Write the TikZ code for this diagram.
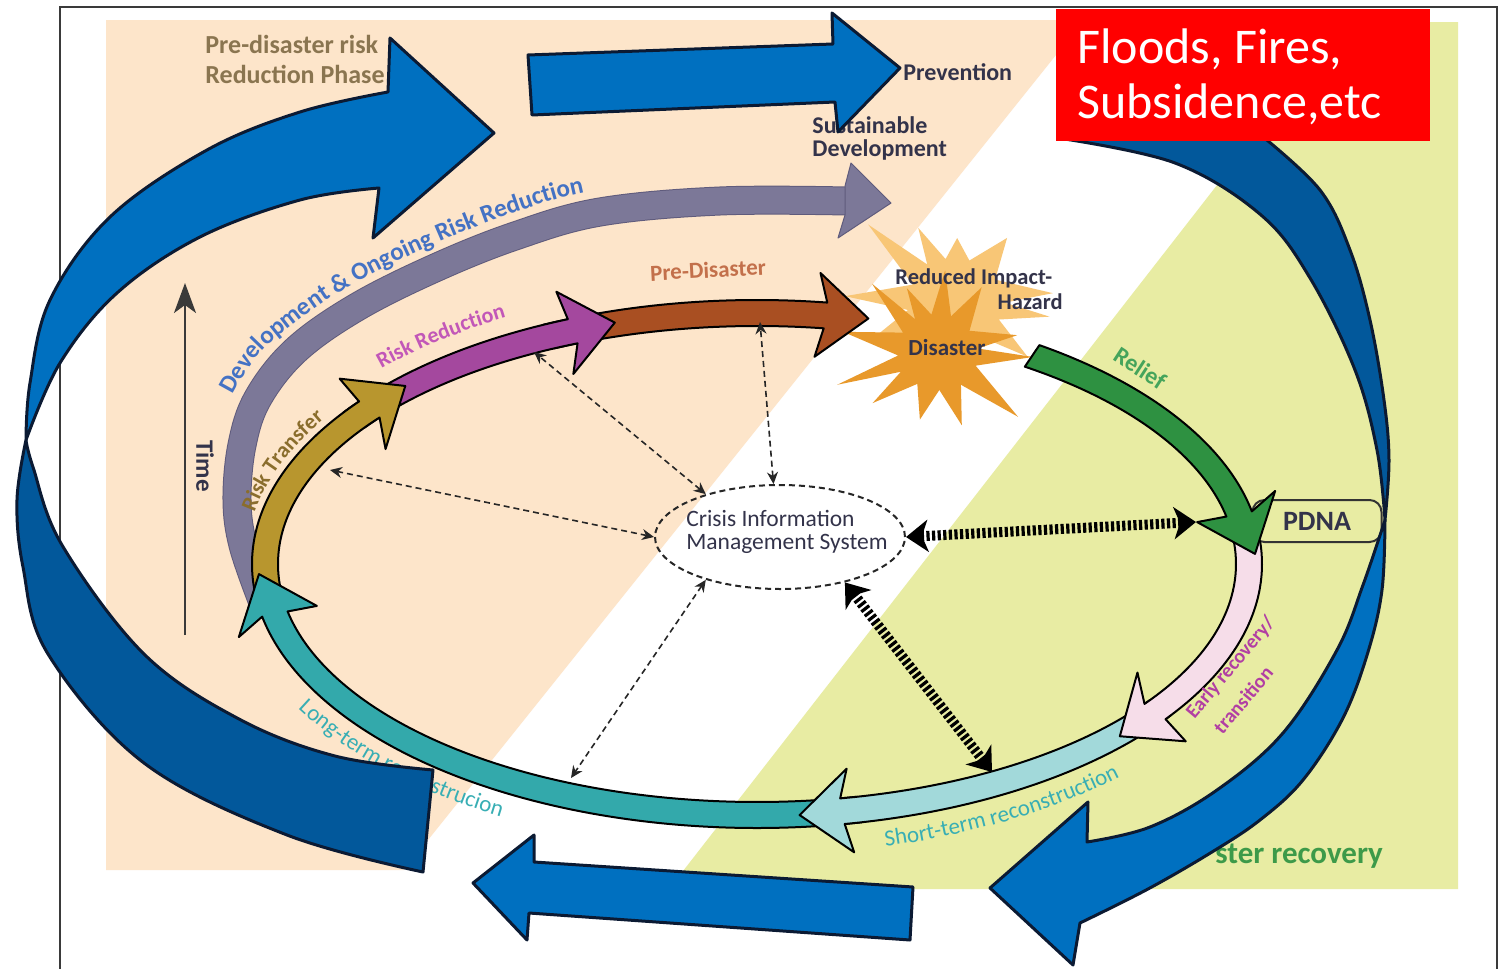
\documentclass[tikz,border=0pt]{standalone}
\usepackage{fontspec}
\setmainfont{Carlito}
\usetikzlibrary{calc,shapes.geometric,decorations.text,arrows.meta}

\definecolor{peach}{HTML}{FDE5CA}
\definecolor{paleGreen}{HTML}{E8ECA3}
\definecolor{blueFront}{HTML}{0070C0}
\definecolor{blueBack}{HTML}{02589B}
\definecolor{arrowEdge}{HTML}{0B1A33}
\definecolor{hazardRed}{HTML}{FF0000}
\definecolor{devBand}{HTML}{7C7898}
\definecolor{devEdge}{HTML}{5F5B7C}
\definecolor{transferFill}{HTML}{B8962E}
\definecolor{reductionFill}{HTML}{A4489E}
\definecolor{preFill}{HTML}{A94F22}
\definecolor{reliefFill}{HTML}{2E9141}
\definecolor{earlyFill}{HTML}{F6DDE9}
\definecolor{shortFill}{HTML}{A2D9DA}
\definecolor{longFill}{HTML}{33A9AB}
\definecolor{flashLight}{HTML}{F8C676}
\definecolor{flashDark}{HTML}{E8992B}
\definecolor{phaseText}{HTML}{8A7550}
\definecolor{darkText}{HTML}{33334A}
\definecolor{devText}{HTML}{4472C4}
\definecolor{reductionText}{HTML}{C257B8}
\definecolor{transferText}{HTML}{8A6D2C}
\definecolor{preText}{HTML}{C3704B}
\definecolor{reliefText}{HTML}{45A45B}
\definecolor{earlyText}{HTML}{B23FA3}
\definecolor{reconText}{HTML}{38AEB4}
\definecolor{recoveryText}{HTML}{3D9A49}
\definecolor{frameLine}{HTML}{3A3A3A}

% font size given in picture units (1 unit = 0.5pt)
\newcommand\fpx[1]{\fontsize{\dimexpr#1pt/2\relax}{\dimexpr#1pt*6/10\relax}\selectfont}
\newcommand\fDev{\fpx{25}\bfseries}
\newcommand\fRisk{\fpx{22}\bfseries}
\newcommand\fRecon{\fpx{23}}

% one stage of the cycle: band along the ellipse from angle #1 to #2, head at #2
\newcommand\cyclearrow[3]{%
  \pgfmathsetmacro\tng{atan2(251*cos(#2),-492*sin(#2))}%
  \fill[#3,draw=black,line width=1pt,line join=round]
    ($(757,564)+(#1:505 and 264)$)
    arc[start angle=#1,end angle=#2,x radius=505,y radius=264]
    -- ($(757,564)+(#2:492 and 251)+(\tng+180:8)+(\tng-90:42)$)
    -- ($(757,564)+(#2:492 and 251)+(\tng:43)$)
    -- ($(757,564)+(#2:492 and 251)+(\tng+180:8)+(\tng+90:42)$)
    -- ($(757,564)+(#2:479 and 238)$)
    arc[start angle=#2,end angle=#1,x radius=479,y radius=238]
    -- cycle;}

\begin{document}
\begin{tikzpicture}[x=0.5pt,y=-0.5pt,
  bigarrow/.style={draw=arrowEdge,line width=1.5pt,line join=round},
  thinlink/.style={draw=black!85,line width=0.8pt,dash pattern=on 3pt off 2pt,
    {Stealth[length=6pt,width=5.5pt]}-{Stealth[length=6pt,width=5.5pt]}},
  hatchlink/.style={draw=black,line width=5pt,dash pattern=on 1.6pt off 1.2pt,
    {Stealth[length=11pt,width=16pt,inset=3pt]}-{Stealth[length=11pt,width=16pt,inset=3pt]}},
  lbl/.style={inner sep=0pt,font=\fpx{24}\bfseries,text=darkText},
]
\useasboundingbox (0,0) rectangle (1501,969);
\fill[white] (0,0) rectangle (1501,969);

% phase backgrounds
\fill[peach] (106,20) -- (1084,20) -- (404,870) -- (106,870) -- cycle;
\fill[paleGreen] (1344,22) -- (1458,22) -- (1458,889) -- (669,889) -- cycle;

% page frame
\draw[frameLine,line width=1pt] (60,969) -- (60,7) -- (1497,7) -- (1497,969);

% plain labels
\node[lbl,anchor=west,text=phaseText,font=\fpx{26}\bfseries] (phaseA) at (205,44) {Pre-disaster risk};
\node[lbl,anchor=west,text=phaseText,font=\fpx{26}\bfseries] (phaseB) at (205,74) {Reduction Phase};
\node[lbl,anchor=west] (prevention) at (903,72) {Prevention};
\node[lbl,anchor=west] (sustA) at (812,125) {Sustainable};
\node[lbl,anchor=west] (sustB) at (812,150) {Development};
\node[lbl,anchor=west,text=recoveryText,font=\fpx{31}\bfseries] (recovery) at (1215,856) {ster recovery};

% time axis
\node[lbl,rotate=-90,font=\fpx{25}\bfseries] (timeLabel) at (205,466) {Time};
\coordinate (timeBase) at (185,635);
\coordinate (timeTip) at (185,283);
\draw[frameLine,line width=1pt,-{Stealth[length=15pt,width=11pt,inset=4pt]}] (timeBase) -- (timeTip);

% development band
\draw[devEdge,line width=14.5pt] plot[smooth,tension=0.6] coordinates {(262,600) (243,545) (237,500) (242,445) (258,398) (296,350) (357,307) (435,268) (515,236) (600,212) (720,201) (846,201)};
\draw[devBand,line width=13.5pt] plot[smooth,tension=0.6] coordinates {(262,600) (243,545) (237,500) (242,445) (258,398) (296,350) (357,307) (435,268) (515,236) (600,212) (720,201) (846,201)};
\fill[devBand,draw=devEdge,line width=0.5pt,line join=round] (845,186) -- (851,163) -- (891,203) -- (838,238) -- (845,215) -- cycle;
\path[decorate,decoration={text along path,text color=devText,text align={left indent=0pt},
   text={|\fDev|Development {\&} Ongoing Risk Reduction}}]
   plot[smooth,tension=0.6] coordinates {(233,395) (253,362) (281,334) (346,288) (426,248) (508,215) (596,190) (720,179) (820,178)};

% disaster burst
\begin{scope}[shift={(955,300)}]
\fill[flashLight] (-178:110) -- (-160:45) -- (-139:115) -- (-128:45) -- (-117:81) -- (-103:42)
  -- (-88:62) -- (-70:42) -- (-50:81) -- (-27:45) -- (-4:98) -- (3:50) -- (10:96) -- (24:48)
  -- (38:92) -- (55:45) -- (75:75) -- (95:45) -- (115:80) -- (135:45) -- (155:90) -- (168:48) -- cycle;
\end{scope}
\begin{scope}[shift={(938,352)}]
\fill[flashDark] (-168:97) -- (-151:40) -- (-134:95) -- (-125:40) -- (-116:71) -- (-100:38)
  -- (-85:82) -- (-70:38) -- (-56:78) -- (-34:38) -- (-12:81) -- (-5:40) -- (3:95) -- (20:40)
  -- (39:103) -- (55:40) -- (72:77) -- (88:38) -- (105:70) -- (123:38) -- (142:83) -- (152:42)
  -- (162:106) -- (175:40) -- cycle;
\end{scope}
\node[lbl,anchor=west,font=\fpx{22.5}\bfseries] (reducedA) at (895,278) {Reduced Impact-};
\node[lbl,anchor=east,font=\fpx{22.5}\bfseries] (reducedB) at (1063,302) {Hazard};
\node[lbl,font=\fpx{23}\bfseries] (disaster) at (947,348) {Disaster};

% post-disaster needs assessment box
\node[draw=black!80,line width=1pt,rounded corners=6pt,minimum width=64.5pt,minimum height=21pt,
  inner sep=0pt,font=\fpx{28}\bfseries,text=darkText] (pdna) at (1317,521) {PDNA};

% cycle stages
\cyclearrow{245}{278}{preFill}
\cyclearrow{215}{248}{reductionFill}
\cyclearrow{172}{218}{transferFill}
\cyclearrow{78}{168.5}{longFill}
\cyclearrow{35}{80}{shortFill}
\cyclearrow{-5}{36}{earlyFill}
\cyclearrow{304}{348.5}{reliefFill}

% stage labels
\node[lbl,rotate=3,text=preText,font=\fpx{23}\bfseries] (preLabel) at (708,270) {Pre-Disaster};
\node[lbl,rotate=-33,text=reliefText] (reliefLabel) at (1140,368) {Relief};
\node[lbl,rotate=50,text=earlyText,font=\fpx{20}\bfseries] (earlyA) at (1231,668) {Early recovery/};
\node[lbl,rotate=50,text=earlyText,font=\fpx{20}\bfseries] (earlyB) at (1243,700) {transition};
\path[decorate,decoration={text along path,text color=transferText,text align={left indent=0pt},
   text={|\fRisk|Risk Transfer}}]
   ($(757,564)+(191:512 and 271)$) arc[start angle=191,end angle=240,x radius=512,y radius=271];
\path[decorate,decoration={text along path,text color=reductionText,text align={left indent=0pt},
   text={|\fRisk|Risk Reduction}}]
   ($(757,564)+(224:522 and 281)$) arc[start angle=224,end angle=262,x radius=522,y radius=281];
\path[decorate,decoration={text along path,text color=reconText,text align={left indent=0pt},
   text={|\fRecon|Long-term reconstrucion}}]
   ($(757,564)+(150:530 and 289)$) arc[start angle=150,end angle=95,x radius=530,y radius=289];
\path[decorate,decoration={text along path,text color=reconText,text align={left indent=0pt},
   text={|\fRecon|Short-term reconstruction}}]
   ($(757,564)+(76:532 and 291)$) arc[start angle=76,end angle=25,x radius=532,y radius=291];

% information system and its links
\node[draw=black!85,line width=1pt,dash pattern=on 3pt off 2pt,ellipse,minimum width=125pt,
  minimum height=52pt,inner sep=0pt] (cims) at (780,537) {};
\node[align=left,inner sep=0pt,text=darkText,font=\fontsize{11.75pt}{11.6pt}\selectfont]
  (cimsText) at (787,532) {Crisis Information\\Management System};
\coordinate (toTransfer) at (330,470);
\coordinate (toReduction) at (534,352);
\coordinate (toPre) at (760,322);
\coordinate (toLong) at (571,778);
\coordinate (toRelief) at (1196,522);
\coordinate (toShort) at (992,772);
\draw[thinlink] (cims.west) -- (toTransfer);
\draw[thinlink] (cims.150) -- (toReduction);
\draw[thinlink] (cims.97) -- (toPre);
\draw[thinlink] (cims.210) -- (toLong);
\draw[hatchlink] (cims.east) -- (toRelief);
\draw[hatchlink] (cims.-35) -- (toShort);

% large blue ribbon arrows
\fill[blueBack,bigarrow] plot[smooth,tension=0.6] coordinates {(26,440) (17,500) (23,567) (48,654) (144,763) (287,835) (423,872)}
  -- plot[smooth,tension=0.6] coordinates {(433,770) (335,756) (239,719) (144,654) (62,545) (33,467) (26,440)} -- cycle;
\fill[blueFront,bigarrow] plot[smooth,tension=0.6] coordinates {(26,440) (30,383) (50,300) (110,217) (207,150) (300,112) (388,92)}
  -- (390,38) -- (494,133) -- (373,238) -- (379,188)
  -- plot[smooth,tension=0.6] coordinates {(379,188) (300,200) (200,237) (117,293) (60,363) (26,440)} -- cycle;
\fill[blueBack,bigarrow] plot[smooth,tension=0.6] coordinates {(1262,136) (1320,190) (1350,250) (1370,320) (1384,400) (1389,460) (1385,520)}
  -- plot[smooth,tension=0.6] coordinates {(1385,520) (1377,450) (1355,370) (1310,278) (1261,215) (1175,163) (1058,138)} -- cycle;
\fill[blueFront,bigarrow] plot[smooth,tension=0.6] coordinates {(1385,520) (1382,590) (1368,652) (1343,718) (1303,780) (1260,820) (1212,852) (1148,889) (1080,923)}
  -- (1073,965) -- (990,888) -- (1088,802) -- (1087,842)
  -- plot[smooth,tension=0.6] coordinates {(1087,842) (1150,827) (1217,790) (1283,733) (1337,650) (1363,585) (1385,520)} -- cycle;
\fill[blueFront,bigarrow] (528,55) -- (833,44) -- (832,13) -- (900,68) -- (838,132) -- (835,102) -- (532,115) -- cycle;
\fill[blueFront,bigarrow] (473,883) -- (534,835) -- (534,862) -- (913,887) -- (910,940) -- (529,913) -- (527,940) -- cycle;

% hazard box
\node[fill=hazardRed,anchor=north west,minimum width=187pt,minimum height=66pt,inner sep=0pt] (hazardBox) at (1056,9) {};
\node[anchor=base west,inner sep=0pt,text=white,font=\fpx{50}] (hazardA) at (1077,63) {Floods, Fires,};
\node[anchor=base west,inner sep=0pt,text=white,font=\fpx{50}] (hazardB) at (1077,118) {Subsidence,etc};
\end{tikzpicture}
\end{document}
